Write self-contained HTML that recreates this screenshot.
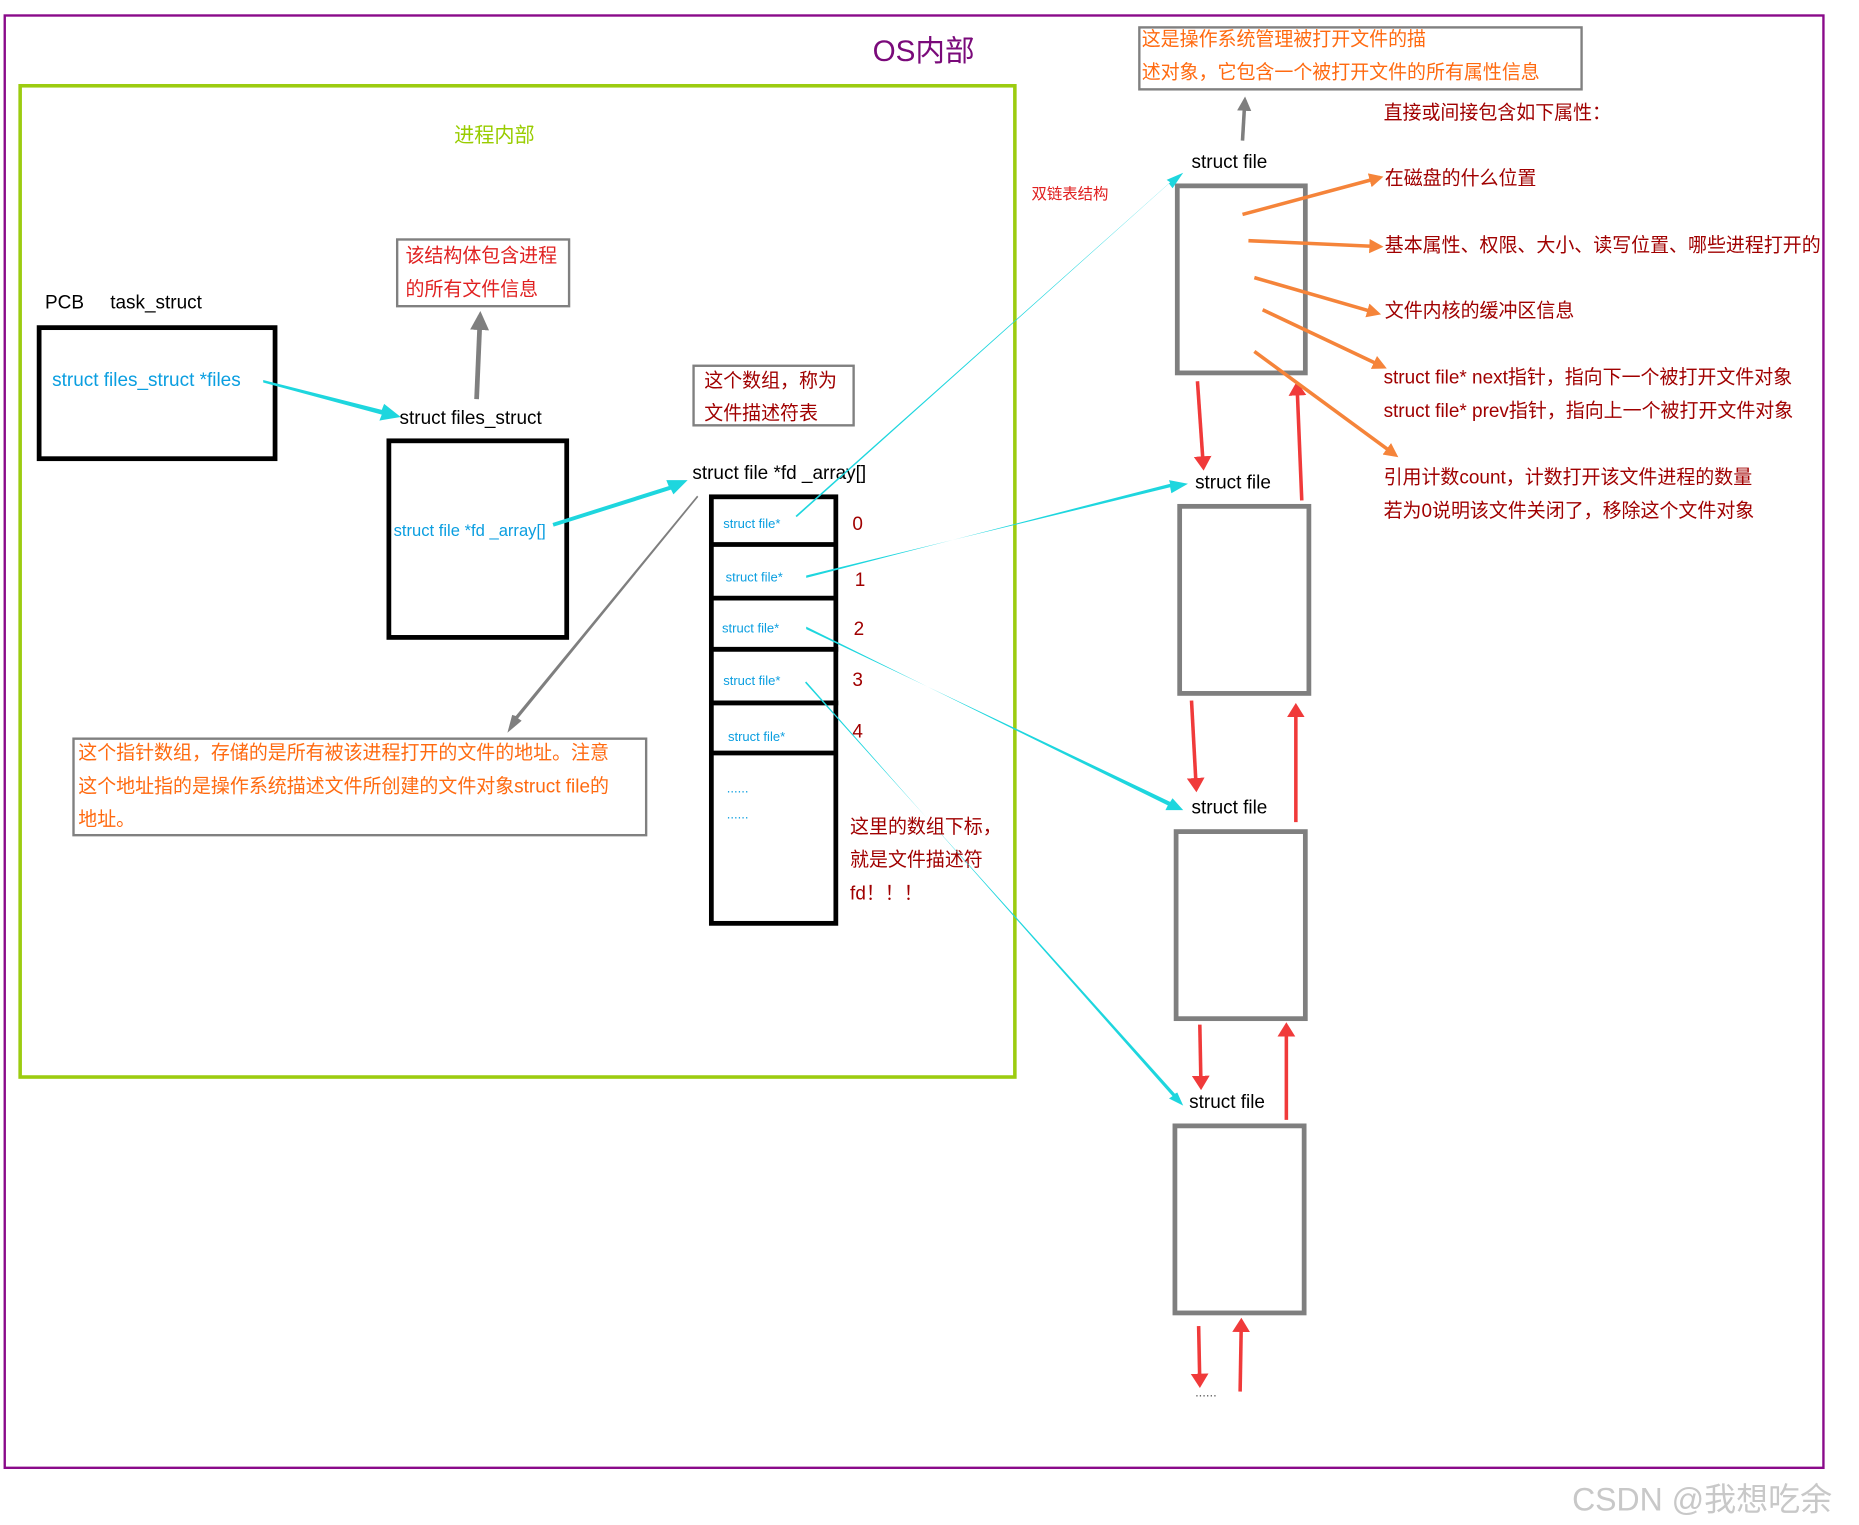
<!DOCTYPE html>
<html><head><meta charset="utf-8"><style>
html,body{margin:0;padding:0;background:#fff;}
svg{display:block;}
text{font-family:"Liberation Sans","Noto Sans CJK SC",sans-serif;}
</style></head><body>
<svg width="1859" height="1525" viewBox="0 0 1568 1280" preserveAspectRatio="none" xmlns="http://www.w3.org/2000/svg">
<defs>
<marker id="cy" markerWidth="5" markerHeight="4" refX="4" refY="2" orient="auto" markerUnits="strokeWidth"><path d="M0,0 L5,2 L0,4 z" fill="#1ed6de"/></marker>
<marker id="gy" markerWidth="4" markerHeight="4" refX="3" refY="2" orient="auto" markerUnits="strokeWidth"><path d="M0,0 L4,2 L0,4 z" fill="#7f7f7f"/></marker>
<marker id="rd" markerWidth="4" markerHeight="5" refX="3" refY="2.5" orient="auto" markerUnits="strokeWidth"><path d="M0,0 L4,2.5 L0,5 z" fill="#f03a3a"/></marker>
<marker id="or" markerWidth="4" markerHeight="4" refX="3" refY="2" orient="auto" markerUnits="strokeWidth"><path d="M0,0 L4,2 L0,4 z" fill="#f5843a"/></marker>
</defs>
<rect x="4" y="13" width="1534" height="1219" fill="none" stroke="#8a0a8a" stroke-width="2"/>
<text x="736" y="51" font-size="25" fill="#7a0a7a">OS内部</text>
<rect x="17" y="72" width="839" height="832" fill="none" stroke="#9ccc10" stroke-width="3"/>
<text x="383" y="119" font-size="17" fill="#99cc00">进程内部</text>

<text x="38" y="259" font-size="16" fill="#000">PCB</text>
<text x="93" y="259" font-size="16" fill="#000">task_struct</text>
<rect x="33" y="275" width="199" height="110" fill="none" stroke="#000" stroke-width="4"/>
<text x="44" y="324" font-size="16" fill="#0a9ee0">struct files_struct *files</text>
<polygon points="222,319 322,344 324,339 338,350 320,353 322,348 222,321" fill="#1ed6de"/>
<text x="337" y="356" font-size="16" fill="#000">struct files_struct</text>
<rect x="328" y="370" width="150" height="165" fill="none" stroke="#000" stroke-width="4"/>
<text x="332" y="450" font-size="14" fill="#0a9ee0">struct file *fd _array[]</text>

<rect x="335" y="201" width="145" height="56" fill="none" stroke="#808080" stroke-width="2"/>
<text x="342" y="220" font-size="16" fill="#e02020">该结构体包含进程</text>
<text x="342" y="248" font-size="16" fill="#e02020">的所有文件信息</text>
<line x1="402" y1="335" x2="405" y2="265" stroke="#7f7f7f" stroke-width="4" marker-end="url(#gy)"/>

<rect x="585" y="307" width="135" height="50" fill="none" stroke="#808080" stroke-width="2"/>
<text x="594" y="325" font-size="16" fill="#a00000">这个数组，称为</text>
<text x="594" y="352" font-size="16" fill="#a00000">文件描述符表</text>

<text x="584" y="402" font-size="16" fill="#000">struct file *fd _array[]</text>
<polygon points="466,439 564,408 562,403 580,403 568,415 566,411 467,442" fill="#1ed6de"/>

<rect x="600" y="417" width="105" height="358" fill="none" stroke="#000" stroke-width="4"/>
<line x1="600" y1="457" x2="705" y2="457" stroke="#000" stroke-width="4"/>
<line x1="600" y1="502" x2="705" y2="502" stroke="#000" stroke-width="4"/>
<line x1="600" y1="545" x2="707" y2="545" stroke="#000" stroke-width="4"/>
<line x1="600" y1="590" x2="707" y2="590" stroke="#000" stroke-width="4"/>
<line x1="600" y1="632" x2="705" y2="632" stroke="#000" stroke-width="4"/>
<g font-size="11" fill="#0a9ee0">
<text x="610" y="443">struct file*</text>
<text x="612" y="488">struct file*</text>
<text x="609" y="531">struct file*</text>
<text x="610" y="575">struct file*</text>
<text x="614" y="622">struct file*</text>
<text x="613" y="665">......</text>
<text x="613" y="687">......</text>
</g>
<g font-size="16" fill="#a00000">
<text x="719" y="445">0</text>
<text x="721" y="492">1</text>
<text x="720" y="533">2</text>
<text x="719" y="576">3</text>
<text x="719" y="619">4</text>
<text x="717" y="699">这里的数组下标，</text>
<text x="717" y="727">就是文件描述符</text>
<text x="717" y="755">fd！！！</text>
</g>
<polygon points="588,416 589,417 437,603 440,605 428,615 432,600 435,601" fill="#7f7f7f"/>

<rect x="62" y="620" width="483" height="81" fill="none" stroke="#808080" stroke-width="2"/>
<g font-size="16" fill="#ff6a10">
<text x="66" y="637">这个指针数组，存储的是所有被该进程打开的文件的地址。注意</text>
<text x="66" y="665">这个地址指的是操作系统描述文件所创建的文件对象struct file的</text>
<text x="66" y="693">地址。</text>
</g>

<rect x="961" y="23" width="373" height="52" fill="none" stroke="#808080" stroke-width="2"/>
<text x="963" y="38" font-size="16" fill="#ff6a10">这是操作系统管理被打开文件的描</text>
<text x="963" y="66" font-size="16" fill="#ff6a10">述对象，它包含一个被打开文件的所有属性信息</text>
<line x1="1048" y1="118" x2="1050" y2="84" stroke="#7f7f7f" stroke-width="3" marker-end="url(#gy)"/>
<text x="1167" y="100" font-size="16" fill="#a00000">直接或间接包含如下属性：</text>
<text x="870" y="167" font-size="13" fill="#e02020">双链表结构</text>

<g font-size="16" fill="#000">
<text x="1005" y="141">struct file</text>
<text x="1008" y="410">struct file</text>
<text x="1005" y="683">struct file</text>
<text x="1003" y="930">struct file</text>
</g>
<g fill="none" stroke="#7f7f7f" stroke-width="4">
<rect x="993" y="156" width="108" height="157"/>
<rect x="995" y="425" width="109" height="157"/>
<rect x="992" y="698" width="109" height="157"/>
<rect x="991" y="945" width="109" height="157"/>
</g>
<g stroke="#f03a3a" stroke-width="3">
<line x1="1010" y1="320" x2="1015" y2="392" marker-end="url(#rd)"/>
<line x1="1005" y1="588" x2="1009" y2="662" marker-end="url(#rd)"/>
<line x1="1012" y1="860" x2="1013" y2="912" marker-end="url(#rd)"/>
<line x1="1011" y1="1113" x2="1012" y2="1162" marker-end="url(#rd)"/>
<line x1="1098" y1="420" x2="1094" y2="323" marker-end="url(#rd)"/>
<line x1="1093" y1="690" x2="1093" y2="593" marker-end="url(#rd)"/>
<line x1="1085" y1="940" x2="1085" y2="861" marker-end="url(#rd)"/>
<line x1="1046" y1="1168" x2="1047" y2="1109" marker-end="url(#rd)"/>
</g>
<text x="1008" y="1172" font-size="11" fill="#555">......</text>

<g stroke="#f5843a" stroke-width="3">
<line x1="1048" y1="180" x2="1164" y2="149" marker-end="url(#or)"/>
<line x1="1053" y1="202" x2="1164" y2="207" marker-end="url(#or)"/>
<line x1="1058" y1="233" x2="1162" y2="263" marker-end="url(#or)"/>
<line x1="1065" y1="260" x2="1167" y2="308" marker-end="url(#or)"/>
<line x1="1058" y1="295" x2="1177" y2="382" marker-end="url(#or)"/>
</g>
<g font-size="16" fill="#a00000">
<text x="1168" y="155">在磁盘的什么位置</text>
<text x="1168" y="211">基本属性、权限、大小、读写位置、哪些进程打开的</text>
<text x="1168" y="266">文件内核的缓冲区信息</text>
<text x="1167" y="322">struct file* next指针，指向下一个被打开文件对象</text>
<text x="1167" y="350">struct file* prev指针，指向上一个被打开文件对象</text>
<text x="1167" y="406">引用计数count，计数打开该文件进程的数量</text>
<text x="1167" y="434">若为0说明该文件关闭了，移除这个文件对象</text>
</g>

<g fill="#1ed6de">
<polygon points="672,434 986,154 989,158 998,145 984,151 987,153 671,433"/>
<polygon points="680,483 987,409 988,414 1002,406 986,403 987,406 680,485"/>
<polygon points="680,526 985,676 983,680 998,680 989,670 987,673 680,528"/>
<polygon points="680,572 989,920 986,922 998,928 993,917 991,918 679,573"/>
</g>

<text x="1326" y="1268" font-size="27" fill="#c8c8c8">CSDN @我想吃余</text>
</svg>
</body></html>
